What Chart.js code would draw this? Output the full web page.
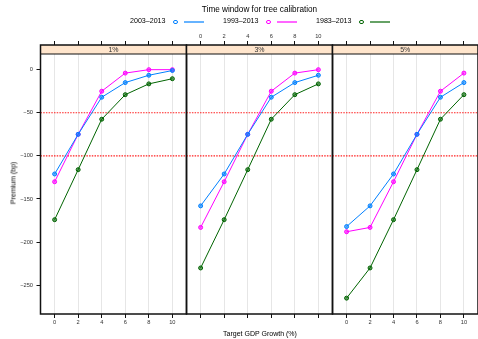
<!DOCTYPE html>
<html>
<head>
<meta charset="utf-8">
<script src="https://cdn.jsdelivr.net/npm/chart.js@4/dist/chart.umd.min.js"></script>
<style>
    body { margin: 0; background: #fff; }
    #wrap { position: relative; width: 478px; height: 339px; overflow: hidden;
            font-family: "Liberation Sans", Arial, sans-serif; color: #000; }
    #wrap canvas { position: absolute; left: 0; top: 0; }
    .txt { position: absolute; white-space: nowrap; line-height: 1; }
    .dot { position: absolute; width: 2.4px; height: 2.4px; border-radius: 50%; border: 1px solid; }
    .seg { position: absolute; height: 2px; opacity: 0.6; }
</style>
</head>
<body>
<div id="wrap">
    <canvas id="panel0" width="478" height="339"></canvas>
    <canvas id="panel1" width="478" height="339"></canvas>
    <canvas id="panel2" width="478" height="339"></canvas>
    <div class="txt" id="legend_title" style="left:259.5px; top:6px; font-size:8.2px; transform:translateX(-50%)">Time window for tree calibration</div>
    <div class="txt" style="left:260px; top:330px; font-size:7px; transform:translateX(-50%)">Target GDP Growth (%)</div>
    <div class="txt" style="left:12.7px; top:183px; font-size:7px; transform:translate(-50%,-50%) rotate(-90deg)">Premium (bp)</div>
</div>
<script>
// Values

const panels = ["1%", "3%", "5%"]
const growth = [0, 2, 4, 6, 8, 10]
const windows = ["2003–2013", "1993–2013", "1983–2013"]
const colors = ["#0080ff", "#ff00ff", "#006400"]

// 1% target
const p1_2003 = [-121, -75, -32, -15, -6.5, -1]
const p1_1993 = [-130, -75, -25, -4, 0, 0]
const p1_1983 = [-174, -116, -57.5, -29, -16.5, -10.5]
// 3% target
const p3_2003 = [-158, -121, -75, -32, -15, -6.5]
const p3_1993 = [-183, -130, -75, -25, -4, 0]
const p3_1983 = [-230, -174, -116, -57.5, -29, -16.5]
// 5% target
const p5_2003 = [-182, -158, -121, -75, -32, -15]
const p5_1993 = [-188, -183, -130, -75, -25, -4]
const p5_1983 = [-265, -230, -174, -116, -57.5, -29]

const yTicks = [0, -50, -100, -150, -200, -250]
const refLines = [-50, -100]

const series = [
    [p1_2003, p1_1993, p1_1983],
    [p3_2003, p3_1993, p3_1983],
    [p5_2003, p5_1993, p5_1983],
]

// layout of the lattice panels (pixels)
const panelLeft = [40.5, 186.5, 332.5]
const panelWidth = 146
const plotTop = 45
const plotBottom = 314
const stripH = 9
const font = "'Liberation Sans', Arial, sans-serif"

function hline(ctx, x0, x1, y) {
    ctx.beginPath()
    ctx.moveTo(x0, y)
    ctx.lineTo(x1, y)
    ctx.stroke()
}

// strip, reference lines and panel frame
const panelDeco = {
    id: "panelDeco",
    beforeDatasetsDraw(chart, args, opts) {
        const ctx = chart.ctx
        const a = chart.chartArea
        const y = chart.scales.y
        ctx.save()
        ctx.strokeStyle = "#ff2020"
        ctx.lineWidth = 1.1
        ctx.setLineDash([1.5, 1.2])
        for (const v of refLines) {
            hline(ctx, a.left, a.right, y.getPixelForValue(v))
        }
        ctx.setLineDash([])
        ctx.fillStyle = "#ffe5cc"
        ctx.fillRect(a.left, a.top, a.right - a.left, stripH)
        ctx.strokeStyle = "#111"
        ctx.lineWidth = 1.2
        hline(ctx, a.left, a.right, a.top + stripH)
        ctx.fillStyle = "#333"
        ctx.font = "7px " + font
        ctx.textAlign = "center"
        ctx.textBaseline = "middle"
        ctx.fillText(opts.label, (a.left + a.right) / 2, a.top + stripH / 2 + 0.5)
        ctx.restore()
    },
    afterDatasetsDraw(chart) {
        const ctx = chart.ctx
        const a = chart.chartArea
        ctx.save()
        ctx.strokeStyle = "#111"
        ctx.lineWidth = 1.5
        ctx.strokeRect(a.left, a.top, a.right - a.left, a.bottom - a.top)
        ctx.restore()
    }
}

function setTicks(values) {
    return function(scale) {
        scale.ticks = values.map(v => ({ value: v }))
    }
}

// force the box size of a scale and drop the label overhang padding
function fixSize(w, h) {
    return function(s) {
        if (w != null) s.width = w
        if (h != null) s.height = h
        s.paddingLeft = 0
        s.paddingRight = 0
        s.paddingTop = 0
        s.paddingBottom = 0
    }
}

function makePanel(i) {
    let datasets = []
    for (let k = 0; k < windows.length; k++) {
        datasets.push({
            label: windows[k],
            data: growth.map((g, j) => ({ x: g, y: series[i][k][j] })),
            borderColor: colors[k],
            backgroundColor: colors[k] + "99",
            borderWidth: 1,
            pointRadius: 2,
            pointBorderWidth: 1,
            tension: 0
        })
    }

    const showY = (i == 0)
    const left = panelLeft[i]
    const right = Math.max(0, 478 - (left + panelWidth))

    new Chart(document.getElementById("panel" + i), {
        type: "line",
        data: { datasets: datasets },
        plugins: [panelDeco],
        options: {
            responsive: false,
            animation: false,
            events: [],
            layout: {
                autoPadding: false,
                padding: { left: showY ? 0 : left, right: right, top: 0, bottom: 0 }
            },
            plugins: {
                legend: { display: false },
                tooltip: { enabled: false },
                panelDeco: { label: panels[i] }
            },
            scales: {
                x: {
                    type: "linear",
                    position: "bottom",
                    min: -1.2,
                    max: 11.2,
                    afterBuildTicks: setTicks(growth),
                    afterFit: fixSize(null, 339 - plotBottom),
                    border: { display: false },
                    grid: { color: "#e6e6e6", lineWidth: 1, drawTicks: true, tickLength: 4, tickColor: "#111" },
                    ticks: { display: i != 1, maxRotation: 0, padding: 1.5, color: "#333", font: { size: 5.7, family: font } }
                },
                xt: {
                    type: "linear",
                    position: "top",
                    min: -1.2,
                    max: 11.2,
                    afterBuildTicks: setTicks(growth),
                    afterFit: fixSize(null, plotTop),
                    border: { display: false },
                    grid: { drawOnChartArea: false, drawTicks: true, tickLength: 4, tickColor: "#111" },
                    ticks: { display: i == 1, maxRotation: 0, padding: 1.5, color: "#333", font: { size: 5.7, family: font } }
                },
                y: {
                    type: "linear",
                    display: showY,
                    min: -283.4,
                    max: 28.6,
                    afterBuildTicks: setTicks(yTicks),
                    afterFit: fixSize(showY ? panelLeft[0] : 0, null),
                    border: { display: false },
                    grid: { drawOnChartArea: false, drawTicks: true, tickLength: 4, tickColor: "#111" },
                    ticks: {
                        padding: 3.5,
                        color: "#333",
                        font: { size: 5.7, family: font },
                        callback: v => String(v).replace("-", "\u2212")
                    }
                }
            }
        }
    })
}

for (let i = 0; i < panels.length; i++) {
    makePanel(i)
}

// Legend: label, open circle, line segment
const legendX = [130, 223, 316]
const wrap = document.getElementById("wrap")
for (let k = 0; k < windows.length; k++) {
    let label = document.createElement("div")
    label.className = "txt"
    label.textContent = windows[k]
    label.style.left = legendX[k] + "px"
    label.style.top = "17.5px"
    label.style.fontSize = "7.1px"
    wrap.appendChild(label)

    let dot = document.createElement("div")
    dot.className = "dot"
    dot.style.borderColor = colors[k]
    dot.style.left = (legendX[k] + 43.3) + "px"
    dot.style.top = "19.6px"
    wrap.appendChild(dot)

    let seg = document.createElement("div")
    seg.className = "seg"
    seg.style.background = colors[k]
    seg.style.left = (legendX[k] + 54) + "px"
    seg.style.width = "20px"
    seg.style.top = "20.5px"
    wrap.appendChild(seg)
}
</script>
</body>
</html>
